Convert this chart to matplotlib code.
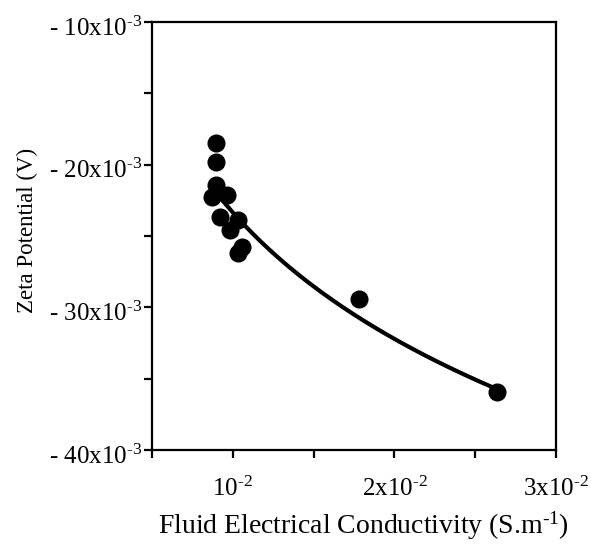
import numpy as np
import matplotlib
matplotlib.use("Agg")
import matplotlib.pyplot as plt
from matplotlib.transforms import ScaledTranslation

# ---- data ----
conductivity = [0.00895, 0.00895, 0.00895, 0.0087, 0.00963, 0.0092,
                0.0103, 0.00981, 0.01056, 0.0103, 0.01784, 0.02636]   # S/m
zeta = [-18.5e-3, -19.8e-3, -21.4e-3, -22.3e-3, -22.1e-3, -23.7e-3,
        -23.9e-3, -24.6e-3, -25.8e-3, -26.2e-3, -29.4e-3, -35.9e-3]  # V

x_ticks = [0.005, 0.01, 0.015, 0.02, 0.025, 0.03]
x_labels = ["", r"10$^{\text{-2}}$", "", r"2x10$^{\text{-2}}$", "", r"3x10$^{\text{-2}}$"]
y_ticks = [-10e-3, -15e-3, -20e-3, -25e-3, -30e-3, -35e-3, -40e-3]
y_labels = [r"- 10x10$^{\text{-3}}$", "", r"- 20x10$^{\text{-3}}$", "",
            r"- 30x10$^{\text{-3}}$", "", r"- 40x10$^{\text{-3}}$"]

plt.rcParams["font.family"] = ["Liberation Serif"]
plt.rcParams["mathtext.fontset"] = "custom"
plt.rcParams["mathtext.rm"] = "Liberation Serif"
plt.rcParams["mathtext.it"] = "Liberation Serif:italic"

fig = plt.figure(figsize=(5.91, 5.48), dpi=100)
ax = fig.add_axes([152 / 591, 1 - 450 / 548, (556 - 152) / 591, (450 - 22) / 548])

# log fit of zeta vs conductivity
xc = np.array(conductivity)
yc = np.array(zeta)
b, a = np.polyfit(np.log(xc), yc, 1)
xs = np.linspace(xc.min(), xc.max(), 200)
ax.plot(xs, a + b * np.log(xs), color="black", lw=3, zorder=2)

ax.plot(conductivity, zeta, "o", color="black", ms=12, zorder=3)

ax.set_xlim(0.005, 0.03)
ax.set_ylim(-40e-3, -10e-3)
ax.set_xticks(x_ticks)
ax.set_xticklabels(x_labels, fontsize=18)
ax.set_yticks(y_ticks)
ax.set_yticklabels(y_labels, fontsize=18)
ax.tick_params(axis="both", direction="out", length=6, width=1.6, color="black")
ax.tick_params(axis="x", pad=13)
ax.tick_params(axis="y", pad=1)
for s in ax.spines.values():
    s.set_linewidth(1.6)

# labels in the original sit a little below their tick marks
shift = ScaledTranslation(0, -3 / 72, fig.dpi_scale_trans)
for lab in ax.get_yticklabels():
    lab.set_transform(lab.get_transform() + shift)

ax.set_xlabel(r"Fluid Electrical Conductivity (S.m$^{\text{-1}}$)", fontsize=20)
ax.xaxis.set_label_coords(0.5235, -0.14)
ax.set_ylabel("Zeta Potential (V)", fontsize=16.5)
ax.yaxis.set_label_coords(-0.282, 0.514)

fig.savefig("out.png", dpi=100)
